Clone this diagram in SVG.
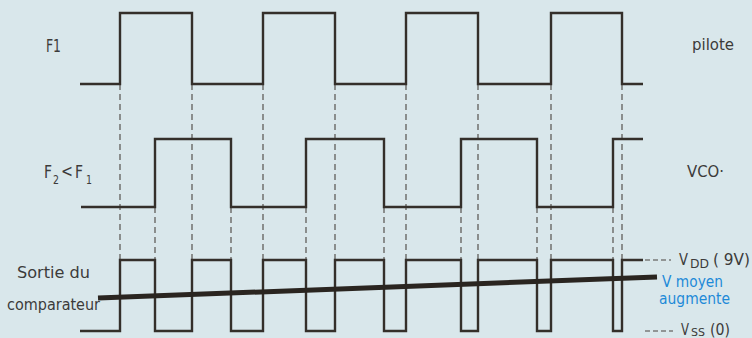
<svg xmlns="http://www.w3.org/2000/svg" width="752" height="338" viewBox="0 0 752 338">
<style>
.sig{fill:none;stroke:#342f2a;stroke-width:2.4;stroke-linejoin:miter}
.dash{fill:none;stroke:#4a4540;stroke-width:1.1;stroke-dasharray:6 4}
.ext{fill:none;stroke:#4a4540;stroke-width:1.2;stroke-dasharray:5 3}
.t{font-family:"DejaVu Sans","Liberation Sans",sans-serif;fill:#3c3b3a}
.b{font-family:"DejaVu Sans","Liberation Sans",sans-serif;fill:#1e8ad8}
</style>
<rect width="752" height="338" fill="#d9e7eb"/>
<g id="connectors">
<path class="dash" d="M120 84V260M192 84V260M263 84V260M335 84V260M406 84V260M478 84V260M551 84V260M622 84V260"/>
<path class="dash" d="M155 207V260M231 207V260M306 207V260M384 207V260M461 207V260M537 207V260M613 207V260"/>
<path class="ext" d="M645 260H671M645 331H673"/>
</g>
<g id="f1">
<path class="sig" d="M80 84H120V13H192V84H263V13H335V84H406V13H478V84H551V13H622V84H643"/>
<text class="t" x="46" y="52" font-size="18" textLength="15" lengthAdjust="spacingAndGlyphs">F1</text>
<text class="t" x="692" y="50" font-size="16" textLength="42" lengthAdjust="spacingAndGlyphs">pilote</text>
</g>
<g id="f2">
<path class="sig" d="M81 207H155V139H231V207H306V139H384V207H461V139H537V207H613V139H643"/>
<text class="t" x="44" y="178" font-size="18" textLength="8" lengthAdjust="spacingAndGlyphs">F</text>
<text class="t" x="53" y="184" font-size="12" textLength="6" lengthAdjust="spacingAndGlyphs">2</text>
<text class="t" x="61" y="177" font-size="18" textLength="12" lengthAdjust="spacingAndGlyphs">&lt;</text>
<text class="t" x="75" y="178" font-size="18" textLength="8" lengthAdjust="spacingAndGlyphs">F</text>
<text class="t" x="86" y="184" font-size="12" textLength="6" lengthAdjust="spacingAndGlyphs">1</text>
<text class="t" x="687" y="177" font-size="16" textLength="37" lengthAdjust="spacingAndGlyphs">VCO·</text>
</g>
<g id="comparateur">
<path class="sig" d="M80 331H120V260H155V331H192V260H231V331H263V260H306V331H335V260H384V331H406V260H461V331H478V260H537V331H551V260H613V331H622V260H643"/>
<text class="t" x="17" y="278" font-size="16" textLength="73" lengthAdjust="spacingAndGlyphs">Sortie du</text>
<text class="t" x="7" y="310" font-size="16" textLength="93" lengthAdjust="spacingAndGlyphs">comparateur</text>
<text class="t" x="679" y="265" font-size="16" textLength="9" lengthAdjust="spacingAndGlyphs">V</text>
<text class="t" x="690" y="268" font-size="12" textLength="19" lengthAdjust="spacingAndGlyphs">DD</text>
<text class="t" x="713" y="265" font-size="16" textLength="37" lengthAdjust="spacingAndGlyphs">( 9V)</text>
<text class="t" x="681" y="335" font-size="15" textLength="8" lengthAdjust="spacingAndGlyphs">V</text>
<text class="t" x="691" y="336" font-size="10" textLength="14" lengthAdjust="spacingAndGlyphs">SS</text>
<text class="t" x="710" y="335" font-size="15" textLength="20" lengthAdjust="spacingAndGlyphs">(0)</text>
</g>
<g id="moyenne">
<line x1="98" y1="298" x2="657" y2="277" stroke="#2a2520" stroke-width="5"/>
<text class="b" x="662" y="287" font-size="15" textLength="61" lengthAdjust="spacingAndGlyphs">V moyen</text>
<text class="b" x="659" y="304" font-size="15" textLength="71" lengthAdjust="spacingAndGlyphs">augmente</text>
</g>
</svg>
